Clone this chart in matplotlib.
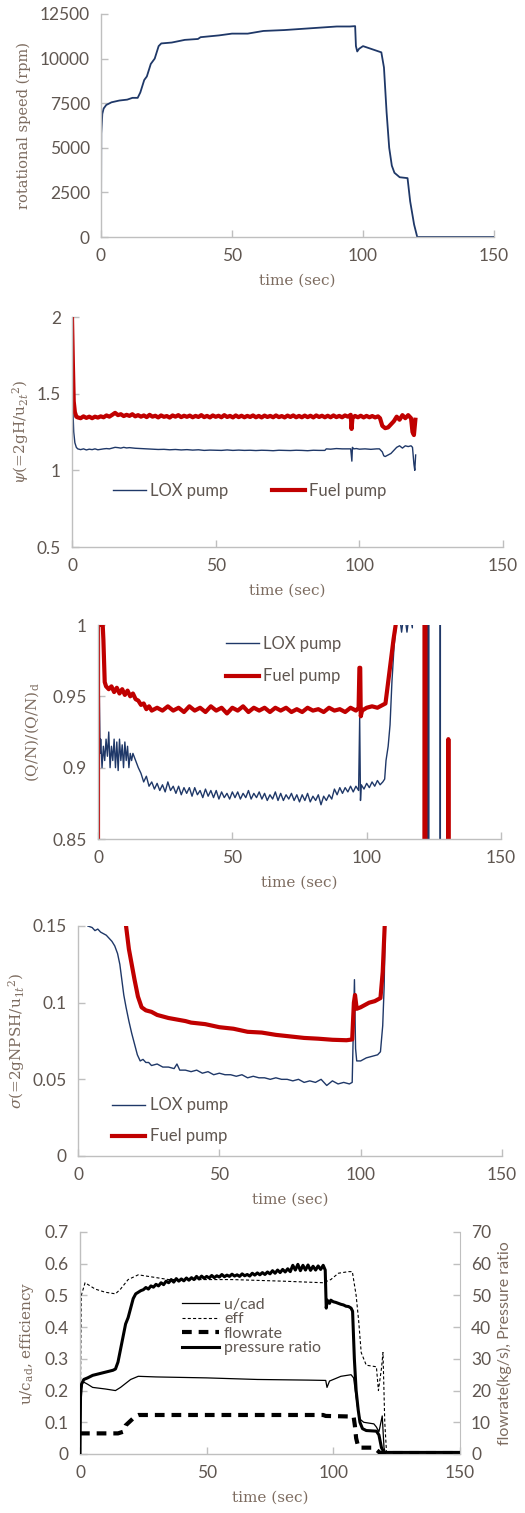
import numpy as np
import matplotlib
matplotlib.use("Agg")
import matplotlib.pyplot as plt
from matplotlib.lines import Line2D

# ---- data ----
speed = [(0, 0), (0.1, 5800), (0.5, 6900), (1, 7200), (2, 7400), (4, 7550), (7, 7650), (10, 7700),
         (12, 7800), (14, 7800), (15, 8100), (16.5, 8800), (17.5, 9000), (19, 9700), (20.5, 10000),
         (22, 10700), (23, 10850), (27, 10900), (32, 11050), (37, 11100), (38, 11200), (45, 11300),
         (50, 11400), (56, 11400), (60, 11500), (62, 11550), (70, 11600), (80, 11700), (90, 11800),
         (95, 11800), (97, 11820), (97.3, 10700), (97.8, 10400), (98.5, 10550), (100, 10700),
         (105, 10450), (107, 10350), (108, 9500), (109, 7000), (110, 5000), (111, 4000), (112, 3600),
         (114, 3350), (117, 3300), (118, 2000), (119.5, 700), (120.7, 0), (150, 0)]

psi_lox = [(0.3, 1.40), (0.6, 1.25), (1, 1.18), (1.5, 1.15), (2, 1.14), (3, 1.135), (4, 1.14), (5, 1.133),
           (6, 1.138), (7, 1.135), (8, 1.14), (9, 1.134), (10, 1.137), (11, 1.14), (12, 1.142), (13, 1.14),
           (14, 1.145), (15, 1.15), (16, 1.148), (17, 1.145), (18, 1.15), (19, 1.146), (20, 1.148),
           (22, 1.144), (24, 1.142), (26, 1.14), (28, 1.138), (30, 1.136), (32, 1.137), (34, 1.134),
           (36, 1.136), (38, 1.133), (40, 1.135), (42, 1.132), (44, 1.134), (46, 1.13), (48, 1.132),
           (50, 1.131), (52, 1.13), (54, 1.133), (56, 1.13), (58, 1.132), (60, 1.13), (62, 1.131),
           (64, 1.129), (66, 1.131), (68, 1.13), (70, 1.128), (72, 1.131), (74, 1.13), (76, 1.129),
           (78, 1.131), (80, 1.13), (82, 1.128), (84, 1.131), (86, 1.13), (88, 1.13), (88.5, 1.14),
           (90, 1.138), (92, 1.142), (94, 1.14), (96, 1.14), (97, 1.14), (97.4, 1.06), (97.6, 1.15),
           (98, 1.14), (99, 1.142), (100, 1.138), (102, 1.14), (104, 1.137), (106, 1.14), (107, 1.14),
           (108, 1.12), (108.5, 1.095), (109, 1.09), (110, 1.1), (111, 1.11), (112, 1.13), (113, 1.15),
           (114, 1.16), (115, 1.145), (116, 1.16), (117, 1.155), (118, 1.16), (118.5, 1.15),
           (119, 1.04), (119.3, 1.0), (119.6, 1.10)]

psi_fuel = [(0, 2.0), (0.3, 1.7), (0.6, 1.45), (1, 1.38), (1.5, 1.35), (2, 1.345), (3, 1.34), (4, 1.352),
            (5, 1.342), (6, 1.35), (7, 1.34), (8, 1.35), (9, 1.344), (10, 1.352), (11, 1.346), (12, 1.358),
            (13, 1.35), (14, 1.362), (15, 1.375), (16, 1.36), (17, 1.366), (18, 1.354), (19, 1.362),
            (20, 1.355), (21, 1.366), (22, 1.352), (23, 1.36), (24, 1.35), (25, 1.358), (26, 1.347),
            (27, 1.362), (28, 1.35), (29, 1.356), (30, 1.345), (31, 1.358), (32, 1.349), (33, 1.354),
            (34, 1.344), (35, 1.358), (36, 1.35), (37, 1.36), (38, 1.347), (39, 1.356), (40, 1.349),
            (41, 1.357), (42, 1.346), (43, 1.355), (44, 1.348), (45, 1.36), (46, 1.347), (47, 1.355),
            (48, 1.345), (49, 1.358), (50, 1.349), (51, 1.356), (52, 1.346), (53, 1.36), (54, 1.348),
            (55, 1.355), (56, 1.345), (57, 1.358), (58, 1.347), (59, 1.356), (60, 1.346), (61, 1.355),
            (62, 1.348), (63, 1.358), (64, 1.346), (65, 1.355), (66, 1.345), (67, 1.357), (68, 1.348),
            (69, 1.355), (70, 1.346), (71, 1.358), (72, 1.347), (73, 1.354), (74, 1.345), (75, 1.357),
            (76, 1.348), (77, 1.358), (78, 1.346), (79, 1.355), (80, 1.346), (81, 1.357), (82, 1.347),
            (83, 1.356), (84, 1.345), (85, 1.358), (86, 1.348), (87, 1.356), (88, 1.346), (89, 1.356),
            (90, 1.346), (91, 1.358), (92, 1.347), (93, 1.355), (94, 1.346), (95, 1.358), (96, 1.35),
            (97, 1.362), (97.3, 1.27), (97.6, 1.34), (98.5, 1.355), (99.5, 1.346), (100.5, 1.356),
            (101.5, 1.345), (102.5, 1.355), (103.5, 1.346), (104.5, 1.354), (105.5, 1.345), (106.5, 1.352),
            (107.2, 1.34), (108, 1.29), (109, 1.275), (110, 1.28), (111, 1.3), (112, 1.32), (113, 1.35),
            (114, 1.33), (115, 1.36), (116, 1.34), (117, 1.36), (118, 1.34), (118.5, 1.25), (119, 1.23),
            (119.5, 1.33)]

qn_lox = [(0.2, 0.85), (0.5, 0.95), (0.8, 0.91), (1, 0.92), (1.5, 0.9), (2, 0.915), (2.5, 0.905), (3, 0.92),
          (3.5, 0.908), (4, 0.925), (4.5, 0.9), (5, 0.915), (5.5, 0.905), (6, 0.92), (6.5, 0.9), (7, 0.918),
          (7.5, 0.898), (8, 0.92), (8.5, 0.905), (9, 0.916), (9.5, 0.9), (10, 0.918), (10.5, 0.905),
          (11, 0.915), (11.5, 0.9), (12, 0.91), (12.5, 0.905), (13, 0.91), (14, 0.905), (15, 0.9),
          (16, 0.896), (17, 0.89), (18, 0.894), (19, 0.887), (20, 0.89), (21, 0.885), (22, 0.889),
          (23, 0.884), (24, 0.888), (25, 0.883), (26, 0.89), (27, 0.884), (28, 0.887), (29, 0.882),
          (30, 0.887), (31, 0.881), (32, 0.886), (33, 0.882), (34, 0.886), (35, 0.88), (36, 0.886),
          (37, 0.881), (38, 0.884), (39, 0.879), (40, 0.885), (41, 0.88), (42, 0.884), (43, 0.879),
          (44, 0.884), (45, 0.878), (46, 0.883), (47, 0.879), (48, 0.882), (49, 0.878), (50, 0.883),
          (51, 0.879), (52, 0.883), (53, 0.878), (54, 0.882), (55, 0.879), (56, 0.884), (57, 0.878),
          (58, 0.882), (59, 0.879), (60, 0.883), (61, 0.878), (62, 0.882), (63, 0.877), (64, 0.881),
          (65, 0.878), (66, 0.883), (67, 0.877), (68, 0.882), (69, 0.877), (70, 0.881), (71, 0.878),
          (72, 0.882), (73, 0.877), (74, 0.881), (75, 0.876), (76, 0.881), (77, 0.877), (78, 0.882),
          (79, 0.876), (80, 0.88), (81, 0.877), (82, 0.881), (83, 0.874), (84, 0.88), (85, 0.877),
          (86, 0.881), (87, 0.878), (88, 0.885), (89, 0.881), (90, 0.886), (91, 0.882), (92, 0.886),
          (93, 0.883), (94, 0.887), (95, 0.883), (96, 0.887), (97, 0.884), (97.4, 0.935), (97.7, 0.877),
          (98, 0.888), (99, 0.885), (100, 0.889), (101, 0.886), (102, 0.89), (103, 0.887), (104, 0.891),
          (105, 0.888), (106, 0.89), (106.7, 0.892), (107.2, 0.905), (108, 0.915), (108.7, 0.93),
          (109.4, 0.96), (110.2, 0.985), (111, 1.0), (112, 1.01), (113, 0.995), (114, 1.01), (115, 0.995),
          (116, 1.01), (117, 0.998), (117.5, 1.2), (122.8, 1.2), (122.85, 0.5), (122.95, 1.2),
          (123.05, 0.5), (123.15, 1.2), (127.35, 1.2), (127.4, 0.5), (127.45, 1.2), (150, 1.2)]

qn_fuel = [(0, 0.85), (0.05, 1.2), (0.5, 1.02), (1, 1.0), (1.5, 1.01), (2, 0.99), (2.5, 0.96), (3, 0.957),
           (4, 0.955), (5, 0.957), (6, 0.953), (7, 0.956), (8, 0.952), (9, 0.955), (10, 0.951), (11, 0.954),
           (12, 0.95), (13, 0.952), (14, 0.948), (15, 0.947), (16, 0.944), (17, 0.945), (18, 0.941),
           (19, 0.943), (20, 0.94), (22, 0.942), (24, 0.94), (26, 0.943), (28, 0.94), (30, 0.942),
           (32, 0.939), (34, 0.943), (36, 0.94), (38, 0.942), (40, 0.939), (42, 0.943), (44, 0.94),
           (46, 0.942), (48, 0.938), (50, 0.942), (52, 0.94), (54, 0.943), (56, 0.939), (58, 0.942),
           (60, 0.94), (62, 0.942), (64, 0.939), (66, 0.942), (68, 0.94), (70, 0.942), (72, 0.939),
           (74, 0.941), (76, 0.939), (78, 0.942), (80, 0.94), (82, 0.941), (84, 0.939), (86, 0.942),
           (88, 0.94), (90, 0.941), (92, 0.939), (94, 0.942), (96, 0.94), (97, 0.942), (97.3, 0.97),
           (97.6, 0.97), (97.8, 0.936), (98.3, 0.94), (100, 0.942), (102, 0.943), (104, 0.942),
           (106, 0.944), (107, 0.945), (108, 0.96), (109, 0.975), (110, 0.99), (110.8, 1.0), (111, 1.2),
           (121.5, 1.2), (121.6, 0.5), (121.8, 1.2), (121.9, 0.5), (130.3, 0.5), (130.4, 0.92),
           (130.5, 0.5), (150, 0.5)]

sig_lox = [(3.5, 0.15), (5, 0.149), (6, 0.147), (7, 0.148), (8, 0.146), (9, 0.145), (10, 0.144), (11, 0.142),
           (12, 0.14), (13, 0.137), (14, 0.132), (14.8, 0.125), (15.5, 0.115), (16.2, 0.105), (17, 0.097),
           (18, 0.088), (19, 0.08), (20, 0.073), (21, 0.066), (22, 0.062), (23, 0.063), (24, 0.061),
           (25, 0.061), (26, 0.059), (28, 0.06), (30, 0.058), (32, 0.058), (34, 0.057), (35, 0.06),
           (36, 0.056), (38, 0.056), (40, 0.055), (42, 0.056), (44, 0.054), (46, 0.055), (48, 0.053),
           (50, 0.054), (52, 0.053), (54, 0.053), (56, 0.052), (58, 0.053), (60, 0.051), (62, 0.052),
           (64, 0.051), (66, 0.051), (68, 0.05), (70, 0.051), (72, 0.05), (74, 0.05), (76, 0.049),
           (78, 0.05), (80, 0.048), (82, 0.049), (84, 0.048), (86, 0.05), (88, 0.046), (90, 0.049),
           (92, 0.047), (94, 0.048), (96, 0.047), (97, 0.048), (97.8, 0.115), (98.2, 0.07), (98.6, 0.062),
           (100, 0.062), (102, 0.064), (104, 0.065), (106, 0.066), (107, 0.068), (107.8, 0.085),
           (108.3, 0.11), (108.7, 0.15)]

sig_fuel = [(17, 0.15), (18, 0.135), (19, 0.125), (20, 0.115), (21.2, 0.104), (22.5, 0.097), (24, 0.095),
            (26, 0.094), (28, 0.092), (30, 0.091), (32, 0.09), (35, 0.089), (38, 0.088), (40, 0.087),
            (45, 0.086), (50, 0.084), (55, 0.083), (60, 0.081), (65, 0.0805), (70, 0.079), (75, 0.078),
            (80, 0.077), (85, 0.0765), (90, 0.0758), (95, 0.0755), (97, 0.076), (97.6, 0.1),
            (98, 0.105), (98.6, 0.096), (100, 0.097), (103, 0.1), (105, 0.101), (107, 0.103),
            (107.8, 0.12), (108.5, 0.15)]

ucad = [(0, 0), (0.3, 0.2), (1.2, 0.228), (3, 0.22), (5, 0.21), (10, 0.205), (14, 0.2), (16, 0.21),
        (20, 0.235), (23, 0.245), (30, 0.243), (50, 0.24), (70, 0.235), (90, 0.233), (97, 0.232),
        (97.5, 0.21), (98.5, 0.23), (103, 0.245), (107, 0.25), (108, 0.24), (109.5, 0.15),
        (110.5, 0.11), (112, 0.1), (116, 0.095), (117, 0.085), (118, 0.07), (119.3, 0.12),
        (120, 0.02), (120.5, 0.005), (150, 0.005)]

eff = [(0, 0), (0.5, 0.5), (2, 0.54), (6, 0.52), (10, 0.51), (14, 0.505), (16, 0.52), (19, 0.55),
       (23, 0.565), (27, 0.56), (35, 0.55), (60, 0.55), (80, 0.545), (96, 0.54), (99, 0.55),
       (102, 0.57), (106, 0.575), (107.5, 0.575), (109, 0.5), (110, 0.42), (111, 0.32), (113, 0.28),
       (117, 0.275), (117.8, 0.2), (119, 0.27), (119.6, 0.32), (120.3, 0.1), (121, 0.005), (150, 0.005)]

flowrate = [(0, 6.5), (15, 6.5), (17, 7), (18, 9), (20, 10.5), (22, 12), (23, 12.3), (96, 12.3), (97, 12),
            (108, 11.8), (108.5, 9), (109, 5), (109.6, 3), (110, 2), (116, 2), (117.5, 1),
            (118.5, 0.3), (150, 0.3)]

pratio = [(0, 0), (0.2, 18), (0.6, 22), (1.5, 23.5), (3, 24), (5, 24.8), (7, 25.2), (9, 25.6), (11, 26),
          (13, 26.4), (14, 26.8), (15, 29), (16, 33), (17, 37), (18, 41), (19, 43), (20, 46), (21, 49),
          (22, 50.5), (23, 51), (24, 51.5), (25, 51.8), (26, 52.5), (27, 52), (28, 53), (29, 52.6),
          (30, 53.5), (31, 53), (32, 54), (33, 53.4), (34, 54.5), (35, 54), (36, 55), (37, 54.2),
          (38, 55.3), (39, 54.5), (40, 55.2), (41, 54.6), (42, 55.5), (43, 54.8), (44, 55.6), (45, 55),
          (46, 56), (47, 55.2), (48, 56.1), (49, 55.4), (50, 56), (51, 55.5), (52, 56.3), (53, 55.6),
          (54, 56.2), (55, 55.8), (56, 56.6), (57, 55.9), (58, 56.4), (59, 56), (60, 56.7), (61, 56.1),
          (62, 56.5), (63, 56), (64, 56.8), (65, 56.2), (66, 56.6), (67, 56.1), (68, 57), (69, 56.4),
          (70, 57.1), (71, 56.5), (72, 57.2), (73, 56.6), (74, 57.4), (75, 56.8), (76, 57.8), (77, 57),
          (78, 58), (79, 57.2), (80, 58.2), (81, 57.4), (82, 58.4), (83, 57.5), (84, 59.5), (85, 58),
          (86, 59.8), (87, 57.8), (88, 59.5), (89, 58), (90, 59.6), (91, 57.9), (92, 59.2), (93, 58),
          (94, 59.3), (95, 58.2), (96, 59.5), (96.8, 58), (97.2, 46), (97.6, 48.5), (98.5, 47.5),
          (99, 48.5), (100, 48), (101, 47.8), (102, 47.5), (103, 47.2), (104, 47), (105, 46.6),
          (106, 46.5), (107, 46), (107.6, 45), (108.3, 30), (109, 20), (109.8, 14), (110.5, 10),
          (111.5, 8), (113, 7.4), (115, 7.3), (117, 7.2), (118, 6), (119, 2), (120, 0.5), (150, 0.5)]

NAVY = '#1f3868'
RED = '#c00000'
GRID = '#bfbfbf'
TICK_C = '#5f5650'
LAB_C = '#7d6c60'
SANS = 'Lato'
SERIF = 'DejaVu Serif'
TICK_FS = 12.5
LEG_FS = 12

plt.rcParams['mathtext.fontset'] = 'dejavuserif'
plt.rcParams['lines.scale_dashes'] = False

W, H = 525, 1513
fig = plt.figure(figsize=(W / 100, H / 100), dpi=100)


def make_ax(left, right, top, bottom):
    ax = fig.add_axes([left / W, 1 - bottom / H, (right - left) / W, (bottom - top) / H])
    for s in ['top', 'right']:
        ax.spines[s].set_visible(False)
    for s in ['left', 'bottom']:
        ax.spines[s].set_color(GRID)
        ax.spines[s].set_linewidth(1.0)
    ax.tick_params(direction='in', length=5, width=1, color=GRID, labelcolor=TICK_C,
                   labelsize=TICK_FS, pad=8)
    ax.set_xlim(0, 150)
    ax.set_xticks([0, 50, 100, 150])
    ax.set_xlabel('time (sec)', family=SERIF, fontsize=11, color=LAB_C, labelpad=7)
    return ax


def xy(pairs):
    a = np.array(pairs, dtype=float)
    return a[:, 0], a[:, 1]


def fix_fonts(ax):
    for lab in ax.get_xticklabels() + ax.get_yticklabels():
        lab.set_fontfamily(SANS)


def legend(ax, **kw):
    ax.legend(frameon=False, handletextpad=0.25, prop={'family': SANS, 'size': LEG_FS},
              labelcolor=TICK_C, **kw)


# panel 1 - rotational speed
ax1 = make_ax(101, 494, 14, 237)
ax1.plot(*xy(speed), color=NAVY, lw=1.3)
ax1.set_ylim(0, 12500)
ax1.set_yticks([0, 2500, 5000, 7500, 10000, 12500])
ax1.set_ylabel('rotational speed (rpm)', family=SERIF, fontsize=10.5, color=LAB_C, labelpad=6)
fix_fonts(ax1)

# panel 2 - head coefficient
ax2 = make_ax(72, 503, 317, 547)
ax2.plot(*xy(psi_lox), color=NAVY, lw=1.0, label='LOX pump')
ax2.plot(*xy(psi_fuel), color=RED, lw=3.0, label='Fuel pump')
ax2.set_ylim(0.5, 2)
ax2.set_yticks([0.5, 1, 1.5, 2])
ax2.set_yticklabels(['0.5', '1', '1.5', '2'])
ax2.set_ylabel(r'$\psi$(=2gH/u$_{2t}$$^{2}$)', family=SERIF, fontsize=11, color=LAB_C, labelpad=4)
legend(ax2, loc='center left', bbox_to_anchor=(0.06, 0.243), ncol=2, handlelength=2.0,
       columnspacing=2.6)
fix_fonts(ax2)

# panel 3 - flow coefficient
ax3 = make_ax(98, 501, 625, 839)
ax3.plot(*xy(qn_lox), color=NAVY, lw=1.0, label='LOX pump')
ax3.plot(*xy(qn_fuel), color=RED, lw=3.0, label='Fuel pump')
ax3.set_ylim(0.85, 1)
ax3.set_yticks([0.85, 0.9, 0.95, 1])
ax3.set_yticklabels(['0.85', '0.9', '0.95', '1'])
ax3.set_ylabel(r'(Q/N)/(Q/N)$_{\rm d}$', family=SERIF, fontsize=11, color=LAB_C, labelpad=8)
legend(ax3, loc='upper left', bbox_to_anchor=(0.28, 1.02), handlelength=2.0, labelspacing=1.0)
fix_fonts(ax3)

# panel 4 - cavitation number
ax4 = make_ax(78, 502, 926, 1156)
ax4.plot(*xy(sig_lox), color=NAVY, lw=1.0, label='LOX pump')
ax4.plot(*xy(sig_fuel), color=RED, lw=3.0, label='Fuel pump')
ax4.set_ylim(0, 0.15)
ax4.set_yticks([0, 0.05, 0.1, 0.15])
ax4.set_yticklabels(['0', '0.05', '0.1', '0.15'])
ax4.set_ylabel(r'$\sigma$(=2gNPSH/u$_{1t}$$^{2}$)', family=SERIF, fontsize=11, color=LAB_C, labelpad=4)
legend(ax4, loc='upper left', bbox_to_anchor=(0.045, 0.32), handlelength=2.0, labelspacing=0.9)
fix_fonts(ax4)

# panel 5 - turbine
ax5 = make_ax(80, 460, 1232, 1454)
ax5.plot(*xy(ucad), color='black', lw=0.9)
ax5.plot(*xy(eff), color='black', lw=0.8, dashes=(2.2, 1.6))
ax5.set_ylim(0, 0.7)
ax5.set_yticks(np.arange(0, 0.71, 0.1))
ax5.set_yticklabels(['0', '0.1', '0.2', '0.3', '0.4', '0.5', '0.6', '0.7'])
ax5.set_ylabel(r'u/c$_{\rm ad}$, efficiency', family=SERIF, fontsize=11, color=LAB_C, labelpad=6)
fix_fonts(ax5)

ax6 = ax5.twinx()
for s in ['top', 'left', 'bottom']:
    ax6.spines[s].set_visible(False)
ax6.spines['right'].set_color(GRID)
ax6.tick_params(direction='in', length=5, width=1, color=GRID, labelcolor=TICK_C,
                labelsize=TICK_FS, pad=8)
ax6.plot(*xy(flowrate), color='black', lw=3.0, dashes=(7, 5))
ax6.plot(*xy(pratio), color='black', lw=2.2)
ax6.set_ylim(0, 70)
ax6.set_yticks(np.arange(0, 71, 10))
ax6.set_ylabel('flowrate(kg/s), Pressure ratio', family=SANS, fontsize=11.5, color=LAB_C, labelpad=4)
fix_fonts(ax6)

handles = [Line2D([], [], color='black', lw=0.9),
           Line2D([], [], color='black', lw=0.8, dashes=(2.2, 1.6)),
           Line2D([], [], color='black', lw=3.0, dashes=(7, 5)),
           Line2D([], [], color='black', lw=2.2)]
ax6.legend(handles, ['u/cad', 'eff', 'flowrate', 'pressure ratio'], loc='upper left',
           bbox_to_anchor=(0.23, 0.77), frameon=False, handlelength=2.3, handletextpad=0.35,
           labelspacing=0.02, prop={'family': SANS, 'size': 11.5}, labelcolor=TICK_C)

fig.savefig('out.png', dpi=100)
